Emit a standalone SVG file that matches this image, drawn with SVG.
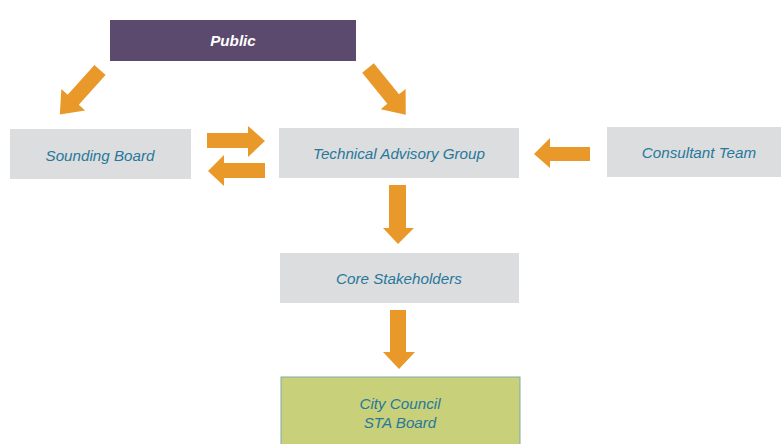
<svg xmlns="http://www.w3.org/2000/svg" width="781" height="444" viewBox="0 0 781 444">
<style>
.box{fill:#dcdddf}
.lbl{font-family:"Liberation Sans",Arial,sans-serif;font-size:15.2px;font-style:italic;fill:#27789a;text-anchor:middle;dominant-baseline:central}
.arr{fill:#e8992a}
</style>
<rect width="781" height="444" fill="#ffffff"/>
<g id="public"><rect x="110" y="20" width="246" height="41" fill="#5b4a6d"/><text class="lbl" x="233" y="40" style="fill:#ffffff;font-weight:bold">Public</text></g>
<g id="sounding-board"><rect class="box" x="10" y="129" width="181" height="50"/><text class="lbl" x="100" y="155">Sounding Board</text></g>
<g id="tag"><rect class="box" x="279" y="128" width="240" height="50"/><text class="lbl" x="399" y="153">Technical Advisory Group</text></g>
<g id="consultant"><rect class="box" x="607" y="127" width="174" height="50"/><text class="lbl" x="699" y="152">Consultant Team</text></g>
<g id="core"><rect class="box" x="280" y="253" width="239" height="50"/><text class="lbl" x="399" y="278">Core Stakeholders</text></g>
<g id="council"><rect x="281" y="377" width="239" height="70" fill="#c8d07a" stroke="#7fabab" stroke-width="1"/><text class="lbl" x="400" y="403">City Council</text><text class="lbl" x="400" y="422">STA Board</text></g>
<g id="connectors">
<path class="arr" transform="translate(100,70) rotate(132)" d="M0,-7.5 L40,-7.5 L40,-16 L60,0 L40,16 L40,7.5 L0,7.5 Z"/>
<path class="arr" transform="translate(368,68) rotate(51)" d="M0,-7.5 L40,-7.5 L40,-16 L60,0 L40,16 L40,7.5 L0,7.5 Z"/>
<path class="arr" d="M207,133 L248,133 L248,126 L265,141 L248,157 L248,148 L207,148 Z"/>
<path class="arr" d="M265,163 L224,163 L224,155 L208,171 L224,186 L224,178 L265,178 Z"/>
<path class="arr" d="M590,147 L550,147 L550,138 L534,154 L550,168 L550,161 L590,161 Z"/>
<path class="arr" d="M389,185 L406,185 L406,228 L414,228 L398,244 L383,228 L389,228 Z"/>
<path class="arr" d="M390,310 L406,310 L406,352 L415,352 L399,369 L383,352 L390,352 Z"/>
</g>
</svg>
